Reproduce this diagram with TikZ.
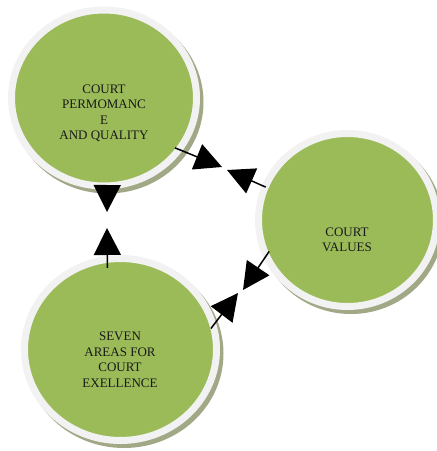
\documentclass[tikz,border=0pt]{standalone}
\usepackage{fontspec}
\setmainfont{Liberation Serif}
\usetikzlibrary{shapes.geometric}
\usetikzlibrary{shadows}
\usetikzlibrary{arrows.meta}
\definecolor{courtgreen}{RGB}{155,187,89}
\definecolor{ringgray}{RGB}{242,242,242}
\definecolor{shadowgreen}{RGB}{160,168,134}
\tikzstyle{court}=[ellipse, draw=ringgray, line width=7pt, fill=courtgreen,
                  drop shadow={shadow xshift=3.5pt, shadow yshift=-4pt, opacity=1,
                  fill=shadowgreen, draw=shadowgreen, line width=7pt}]
\tikzstyle{words}=[align=center, font=\fontsize{13}{15.5}\selectfont, text=black!90]
\tikzstyle{link}=[line width=1.5pt, -{Triangle[length=27pt,width=27pt]}]

\begin{document}
\begin{tikzpicture}[x=1pt, y=1pt]
      \useasboundingbox (0,0) rectangle (437,-451);
      % Place the three circles
      \foreach \place/\name/\w/\h in {{(104,-98)/perf/185/176}, {(347.5,-220)/values/178/173}, {(120.5,-349.5)/areas/192/182}}
        \node[court, minimum width=\w pt, minimum height=\h pt] (\name) at \place {};
      %
      % Texts, a bit below the centres
      \node[words] (perf text) at (104,-113) {COURT\\PERMOMANC\\E\\AND QUALITY};
      \node[words] (values text) at (347,-240) {COURT\\VALUES};
      \node[words] (areas text) at (120,-360) {SEVEN\\AREAS FOR\\COURT\\EXELLENCE};
      %
      % Arrow tips, facing each other in pairs
      \coordinate (pv) at (222,-167);
      \coordinate (vp) at (227,-170);
      \coordinate (va) at (243,-290);
      \coordinate (av) at (238,-293);
      \coordinate (pa) at (107,-212);
      \coordinate (ap) at (107,-228);
      \draw[link, shorten <=-8pt] (perf.-34) -- (pv);
      \draw[link, shorten <=-4pt] (values.158) -- (vp);
      \draw[link, shorten <=-9pt] (values.205) -- (va);
      \draw[link, shorten <=-8pt] (areas.16) -- (av);
      \draw[link, shorten <=-20pt] (perf.-88) -- (pa);
      \draw[link, shorten <=-12pt] (areas.98) -- (ap);
\end{tikzpicture}
\end{document}
